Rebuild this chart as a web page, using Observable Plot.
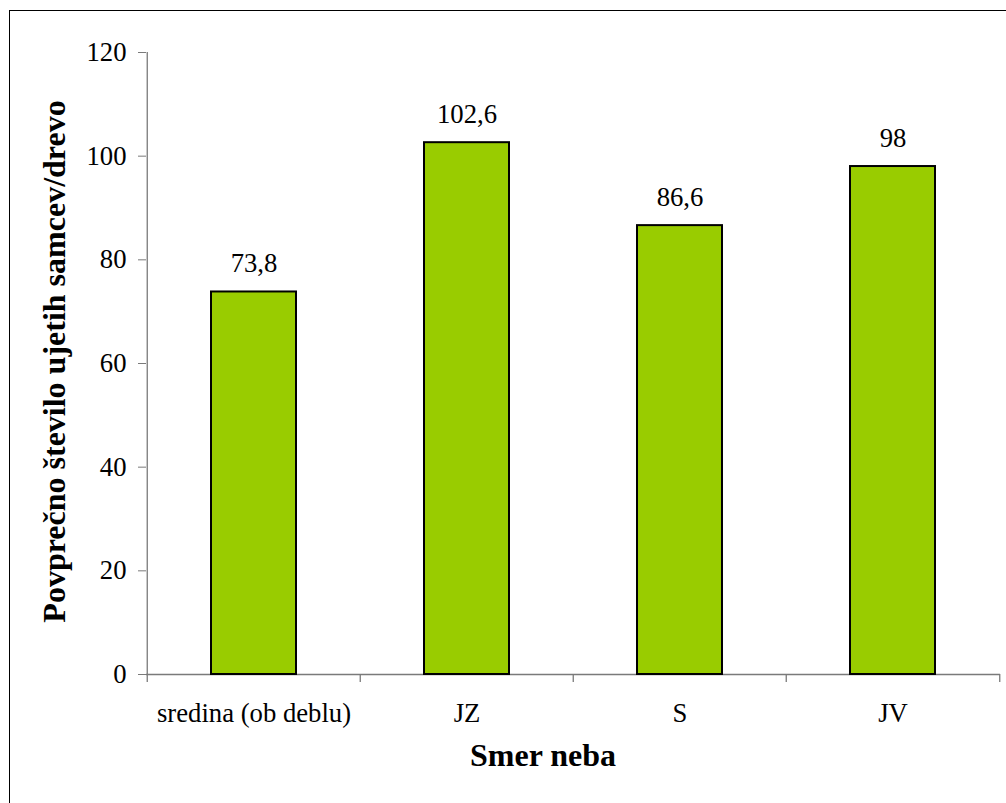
<!DOCTYPE html>
<html>
<head>
<meta charset="utf-8">
<script src="https://cdn.jsdelivr.net/npm/d3@7"></script>
<script src="https://cdn.jsdelivr.net/npm/@observablehq/plot@0.6"></script>
<style>
  html, body { margin: 0; padding: 0; background: #fff; }
  #wrap { position: relative; width: 1006px; height: 803px; overflow: hidden; }
  #edge { position: absolute; left: 9px; top: 10px; width: 1100px; height: 900px;
          border-left: 1.5px solid #000; border-top: 1.5px solid #000; }
  #chart { position: absolute; left: 0; top: 0; }
  #chart svg, #chart svg text { font-family: "Liberation Serif", "Times New Roman", serif; }
</style>
</head>
<body>
<div id="wrap"><div id="edge"></div><div id="chart"></div></div>
<script>
// Average number of trapped males per tree, by compass direction
const categories = ["sredina (ob deblu)", "JZ", "S", "JV"];
const values = [73.8, 102.6, 86.6, 98];
const yTicks = [0, 20, 40, 60, 80, 100, 120];
const xTitle = "Smer neba";
const yTitle = "Povprečno število ujetih samcev/drevo";

const data = categories.map((c, i) => ({category: c, value: values[i]}));
const fmt = v => String(v).replace(".", ",");

const W = 1006, H = 803;
const mL = 146, mR = 6, mT = 52, mB = 129;
const step = (W - mL - mR) / categories.length;
const font = "'Liberation Serif', 'Times New Roman', serif";
const axisGray = "#7a7a7a";

const chart = Plot.plot({
  width: W,
  height: H,
  marginLeft: mL,
  marginRight: mR,
  marginTop: mT,
  marginBottom: mB,
  style: {background: "transparent", color: "#000"},
  x: {domain: categories, paddingInner: 0.6, paddingOuter: 0.3},
  y: {domain: [0, 120]},
  marks: [
    // axis lines
    Plot.ruleY([0], {stroke: axisGray, strokeWidth: 1.3}),
    Plot.ruleX([categories[0]], {y1: 0, y2: 120, dx: -step / 2, stroke: axisGray, strokeWidth: 1.3}),
    // category boundary ticks below the x axis
    Plot.ruleX(categories, {y1: 0, y2: -1.55, dx: -step / 2, stroke: axisGray, strokeWidth: 1.3}),
    Plot.ruleX([categories[categories.length - 1]], {y1: 0, y2: -1.55, dx: step / 2, stroke: axisGray, strokeWidth: 1.3}),
    Plot.axisY({ticks: yTicks, tickSize: 8, tickPadding: 12, fontSize: 26.7, fontFamily: font, stroke: axisGray, fill: "#000", label: null}),
    Plot.axisX({tickSize: 0, tickPadding: 28.5, fontSize: 26.7, fontFamily: font, fill: "#000", label: null}),
    // bars
    Plot.barY(data, {x: "category", y: "value", fill: "#99cc00", stroke: "#000", strokeWidth: 2}),
    // value labels
    Plot.text(data, {x: "category", y: "value", text: d => fmt(d.value), dy: -28.5, fontSize: 26.7, fontFamily: font, fill: "#000"}),
    // axis titles
    Plot.text([yTitle], {frameAnchor: "left", textAnchor: "middle", lineAnchor: "middle", rotate: -90, dx: -91.5, dy: -2, fontSize: 32, fontWeight: "bold", fontFamily: font, fill: "#000"}),
    Plot.text([xTitle], {frameAnchor: "bottom", textAnchor: "middle", lineAnchor: "middle", dx: -30.5, dy: 81.3, fontSize: 32, fontWeight: "bold", fontFamily: font, fill: "#000"})
  ]
});

document.getElementById("chart").appendChild(chart);
</script>
</body>
</html>
